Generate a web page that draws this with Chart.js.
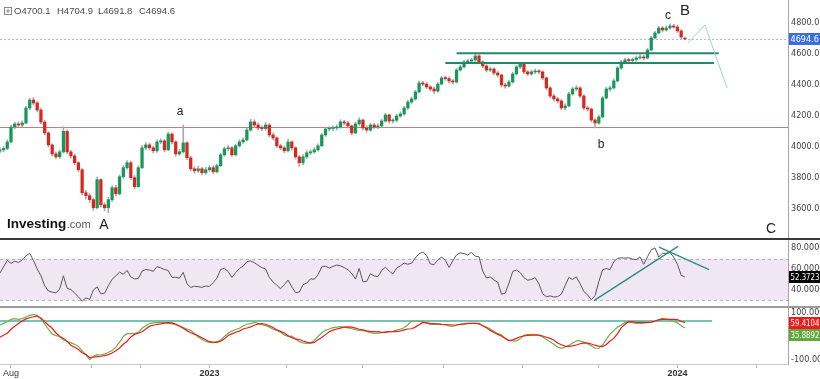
<!DOCTYPE html>
<html><head><meta charset="utf-8">
<script src="https://cdn.jsdelivr.net/npm/chart.js@4.4.0/dist/chart.umd.min.js"></script>
<style>
html,body{margin:0;padding:0;background:#fff;}
#wrap{position:relative;width:820px;height:379px;overflow:hidden;background:#fff;}
canvas{position:absolute;left:0;}
.sep{position:absolute;left:0;width:820px;}
</style></head><body>
<div id="wrap">
<canvas id="main" width="820" height="239" style="top:0"></canvas>
<canvas id="rsi" width="820" height="66" style="top:240px"></canvas>
<canvas id="osc" width="820" height="71" style="top:308px"></canvas>
<div class="sep" style="top:238px;height:2px;background:#3a3a3a"></div>
<div class="sep" style="top:306px;height:2px;background:#9c9c9c"></div>
</div>
<script>
// ---- data (2-trading-day candles, day index 0 = 1 Aug 2022) ----
const START_DAY = -6, STEP = 2;
const open = [
3972,3981,3990,4032,4128,4148,4141,4154,4251,4302,
4283,4238,4160,4090,4013,3955,3936,3968,4100,3968,
3942,3898,3853,3705,3686,3660,3608,3789,3627,3608,
3660,3737,3698,3808,3866,3898,3802,3744,3866,3994,
4013,3994,3975,4032,4039,3981,4083,4032,3955,3968,
4026,3930,3859,3846,3859,3834,3853,3866,3840,3879,
3949,3988,3994,3949,4007,4032,4045,4109,4161,4141,
4122,4118,4141,4077,4058,4007,3994,3975,4032,3994,
3936,3898,3936,3962,3968,3981,4007,4077,4115,4118,
4122,4128,4161,4154,4135,4090,4148,4173,4122,4109,
4141,4128,4135,4167,4206,4167,4172,4199,4212,4251,
4289,4309,4354,4412,4405,4386,4373,4360,4405,4444,
4440,4425,4418,4495,4515,4547,4553,4560,4586,4547,
4521,4495,4502,4476,4463,4399,4392,4418,4470,4515,
4534,4483,4470,4483,4489,4483,4444,4380,4328,4309,
4296,4251,4264,4341,4373,4380,4328,4251,4244,4173,
4154,4193,4315,4373,4380,4425,4508,4547,4560,4556,
4563,4573,4579,4573,4624,4702,4734,4766,4753,4766,
4779,4772,4747,4700.1];
const high = [
3995,4002,4045,4140,4160,4162,4168,4262,4312,4318,
4292,4250,4172,4098,4020,3968,3980,4130,4110,3978,
3955,3905,3860,3720,3700,3672,3805,3795,3640,3675,
3750,3752,3820,3880,3912,3908,3815,3878,4010,4028,
4025,4005,4045,4052,4048,4095,4090,4040,3985,4141,
4035,3940,3872,3875,3868,3868,3880,3878,3890,3960,
4000,4010,4002,4018,4045,4058,4120,4178,4175,4155,
4135,4158,4150,4090,4065,4018,4005,4048,4040,4002,
3945,3950,3975,3982,3995,4020,4088,4128,4130,4135,
4142,4175,4172,4165,4142,4160,4188,4180,4135,4152,
4152,4148,4178,4215,4212,4182,4210,4225,4262,4300,
4322,4365,4425,4422,4415,4395,4385,4415,4455,4456,
4452,4435,4505,4528,4558,4565,4570,4605,4595,4555,
4530,4515,4510,4488,4470,4410,4430,4482,4525,4542,
4540,4492,4495,4502,4498,4490,4450,4388,4340,4320,
4305,4278,4352,4385,4395,4388,4335,4262,4250,4182,
4205,4325,4385,4392,4438,4518,4558,4572,4570,4574,
4585,4595,4590,4635,4712,4745,4778,4775,4780,4793,
4790,4786,4755,4704.9];
const low = [
3960,3968,3982,4025,4118,4128,4130,4148,4240,4270,
4225,4148,4078,4000,3940,3922,3925,3960,3955,3928,
3885,3840,3690,3665,3640,3590,3600,3612,3590,3576,
3648,3685,3690,3798,3855,3790,3730,3738,3860,3982,
3982,3960,3965,4020,3968,3975,4020,3940,3945,3960,
3918,3845,3830,3835,3820,3822,3842,3828,3832,3872,
3940,3975,3938,3942,3998,4022,4038,4100,4130,4110,
4105,4108,4065,4045,3995,3982,3962,3968,3980,3922,
3875,3885,3925,3950,3958,3972,4000,4068,4102,4105,
4110,4120,4142,4122,4078,4085,4140,4110,4095,4100,
4118,4118,4128,4160,4155,4155,4160,4190,4205,4242,
4280,4300,4348,4395,4375,4360,4345,4352,4398,4428,
4412,4405,4410,4488,4508,4538,4545,4550,4535,4510,
4482,4485,4465,4450,4385,4378,4385,4410,4462,4505,
4470,4458,4460,4472,4470,4432,4368,4315,4295,4282,
4238,4240,4258,4332,4362,4315,4240,4230,4160,4122,
4145,4188,4308,4360,4372,4418,4500,4540,4546,4548,
4552,4565,4560,4566,4618,4695,4728,4740,4745,4758,
4765,4738,4698,4691.8];
const close = [
3981,3990,4032,4128,4148,4141,4154,4251,4302,4283,
4238,4160,4090,4013,3955,3936,3968,4100,3968,3942,
3898,3853,3705,3686,3660,3608,3789,3627,3608,3660,
3737,3698,3808,3866,3898,3802,3744,3866,3994,4013,
3994,3975,4032,4039,3981,4083,4032,3955,3968,4026,
3930,3859,3846,3859,3834,3853,3866,3840,3879,3949,
3988,3994,3949,4007,4032,4045,4109,4161,4141,4122,
4118,4141,4077,4058,4007,3994,3975,4032,3994,3936,
3898,3936,3962,3968,3981,4007,4077,4115,4118,4122,
4128,4161,4154,4135,4090,4148,4173,4122,4109,4141,
4128,4135,4167,4206,4167,4172,4199,4212,4251,4289,
4309,4354,4412,4405,4386,4373,4360,4405,4444,4440,
4425,4418,4495,4515,4547,4553,4560,4586,4547,4521,
4495,4502,4476,4463,4399,4392,4418,4470,4515,4534,
4483,4470,4483,4489,4483,4444,4380,4328,4309,4296,
4251,4264,4341,4373,4380,4328,4251,4244,4173,4154,
4193,4315,4373,4380,4425,4508,4547,4560,4556,4563,
4573,4579,4573,4624,4702,4734,4766,4753,4766,4779,
4772,4747,4708,4694.6];
const rsi = [
55.9,62,68.2,65.4,67.4,66.2,68.6,72.5,75,68,
60,53.5,44,39,38,37.2,41,53.5,41.6,40.5,
37,33.5,29.5,32.5,31,40,43,36.3,37,44,
50.2,53.5,57,55,58.6,52.5,50.5,51,58,59.5,
59,57.8,62.2,61,59.5,58.5,52,52.2,51.3,56.8,
46,42.5,43.5,43.2,42.5,43.8,43.4,47,51.3,59.5,
60.7,57.5,52,56.5,60.5,62.8,67,67.7,66,63.5,
61.3,60,52,47.5,44.6,41.2,45,49.5,43,37.5,
38,45,46.6,50.6,50.2,54.5,62,62.6,60.9,62.4,
63.8,63,61.4,59.3,55.9,50.4,60.5,47.9,48.2,55.4,
53.4,52.7,58.5,61.7,58,55.2,60.8,63,65.6,64.5,
65.5,70.5,74.6,76,73,64.8,64.2,68.6,71.3,68.3,
61.5,67.7,73.4,75.4,74.7,73.2,76,72.2,71.6,58,
51.3,52.5,49.5,47.5,36,37,46.6,57.6,59,56.6,
51.8,49.3,50,51.8,45.8,36.5,33.6,34.4,33.3,33.7,
36,44,52,50,52.5,46,38.5,35.4,30.8,34.7,
48,59.2,60.5,59.5,67,70.2,70.6,70.4,70.7,69.4,
68.8,71.5,64.5,71.5,78.3,80.1,71.5,75,75,75.6,
71.3,64.5,54,52.3723];
const oscFast = [
49,56,63,73,76,73,76,83,90,94,
90,74,54,31,10,4,0,-15,-21,-27,
-33,-43,-60,-78,-98,-84,-77,-79,-74,-68,
-60,-45,-24,0,13,12,13,18,35,46,
56,58,60,60,59,57,54,50,44,38,
32,26,12,-2,-12,-21,-25,-26,-22,-15,
0,14,23,30,35,45,52,55,60,56,
50,46,40,31,26,18,7,1,2,-12,
-22,-27,-29,-27,-17,0,16,26,32,38,
40,42,40,37,33,29,26,25,22,16,
13,13,16,20,21,22,27,32,37,50,
66,65,64,62,57,52,52,52,52,49,
45,43,48,52,53,55,56,56,52,46,
40,32,22,12,7,-8,-18,-19,-19,-10,
6,8,9,8,6,-2,-13,-22,-33,-45,
-50,-45,-37,-28,-19,-19,-24,-31,-39,-50,
-50,-36,-12,10,25,40,49,60,62,59,
56,56,57,59,60,66,72,77,74,71,
64,58,46,35.8892];
const oscSlow = [
-3,5,14,31,44,55,66,75,80,84,
87,79,63,48,35,15,1,-8,-20,-37,
-46,-55,-69,-77,-89,-88,-86,-84,-81,-77,
-70,-61,-49,-33,-20,-2,9,14,20,32,
44,48,52,54,57,59,58,53,45,35,
25,16,10,3,-5,-14,-22,-24,-25,-20,
-10,4,11,18,23,32,36,41,48,53,
55,52,46,38,28,22,15,3,-5,-10,
-13,-19,-24,-28,-25,-14,-4,8,20,27,
32,36,40,41,40,36,31,28,24,21,
21,21,18,18,21,21,21,24,28,32,
33,40,50,60,58,56,55,54,52,51,
50,49,50,52,54,56,56,56,56,46,
37,26,17,9,2,-8,-17,-14,-8,-1,
2,5,6,6,6,2,-3,-8,-16,-28,
-35,-41,-42,-40,-36,-31,-27,-28,-32,-37,
-41,-43,-34,-19,-8,12,38,52,63,62,
60,60,60,60,61,65,71,73,73,73,
73,72,64,59.4104];

const priceTicks = [3600,3800,4000,4200,4400,4600,4800];
const rsiTicks = [40,60,80];
const oscTicks = [-100,100];
const axisTickDays = [0,43,69,106,147,188,231,273,314,356,398];
const axisTickLabels = ['Aug','','','2023','','','','','','2024',''];
const headerLabels = ['O4700.1','H4704.9','L4691.8','C4694.6'];
const supportLevel = 4126;
const resistance = [{from:238,to:378,p:4603},{from:232,to:375.5,p:4540}];
const projection = [[361.6,4669],[370.7,4785],[382.5,4379]];
const waveLabels = [
  {t:'a',d:90.3,p:4225,s:12},{t:'A',d:49.7,p:3497,s:14},{t:'b',d:315.2,p:4012,s:12},
  {t:'c',d:351,p:4843,s:12},{t:'B',d:360,p:4875,s:15},{t:'C',d:406,p:3471,s:14}];
const rsiBand = [30,70];
const rsiTrend = [[[311.4,29.8],[356.3,81.5]],[[346.2,80.8],[372.9,59.5]]];
const oscLevel = {p:66,to:374.5};

const days = close.map((_, i) => START_DAY + i * STEP);
const X_MIN = -5.876, X_MAX = 415.06;
const FONT = '"Liberation Sans", Arial, sans-serif';
const NARROW = '"Liberation Sans Narrow", "DejaVu Sans Condensed", "Liberation Sans", sans-serif';

function rightAxis(min, max, ticks, fmt){
  return {position:'right', min, max,
    afterBuildTicks: s => { s.ticks = ticks.map(v => ({value:v})); },
    afterFit: s => { s.width = 32; s.paddingTop = 0; s.paddingBottom = 0; },
    grid:{display:false, drawTicks:false},
    border:{display:true, color:'#a6a6a6', width:1},
    ticks:{padding:3, color:'#444', font:{size:9, family:NARROW}, callback: fmt}};
}
function hiddenX(){ return {type:'linear', min:X_MIN, max:X_MAX, offset:false, display:false}; }
const base = {responsive:false, animation:false, devicePixelRatio:1, events:[],
  layout:{padding:0}, plugins:{legend:{display:false}, tooltip:{enabled:false}}};

function seg(ctx, x1, y1, x2, y2, color, w){
  ctx.strokeStyle = color; ctx.lineWidth = w;
  ctx.beginPath(); ctx.moveTo(x1, y1); ctx.lineTo(x2, y2); ctx.stroke();
}
function valueBox(ctx, y, text, bg, fg){
  ctx.fillStyle = bg; ctx.fillRect(789, Math.round(y) - 6, 31, 12);
  ctx.fillStyle = fg; ctx.font = '9px ' + NARROW;
  ctx.textAlign = 'left'; ctx.textBaseline = 'middle';
  ctx.fillText(text, 790.5, Math.round(y) + 0.5, 29);
}

// ---------- main price chart ----------
const mainOverlay = {
  id:'mainOverlay',
  beforeDatasetsDraw(chart){
    const {ctx, chartArea:a, scales:{x, y}} = chart;
    ctx.save();
    ctx.beginPath(); ctx.rect(a.left, a.top, a.width, a.height); ctx.clip();
    const ys = Math.round(y.getPixelForValue(supportLevel)) + 0.5;
    seg(ctx, a.left, ys, a.right, ys, '#c47c76', 1);
    const yc = Math.round(y.getPixelForValue(close[close.length-1])) + 0.5;
    ctx.setLineDash([2,2]); seg(ctx, a.left, yc, a.right, yc, '#a8b6ee', 1); ctx.setLineDash([]);
    ctx.restore();
  },
  afterDatasetsDraw(chart){
    const {ctx, chartArea:a, scales:{x, y}} = chart;
    ctx.save();
    resistance.forEach(r => {
      const yy = y.getPixelForValue(r.p);
      seg(ctx, x.getPixelForValue(r.from), yy, x.getPixelForValue(r.to), yy, '#23886a', 2);
    });
    ctx.strokeStyle = '#9bd6d2'; ctx.lineWidth = 1; ctx.beginPath();
    projection.forEach((p, i) => {
      const px = x.getPixelForValue(p[0]), py = y.getPixelForValue(p[1]);
      if (i === 0) ctx.moveTo(px, py); else ctx.lineTo(px, py);
    });
    ctx.stroke();
    ctx.fillStyle = '#222'; ctx.textAlign = 'center'; ctx.textBaseline = 'middle';
    waveLabels.forEach(l => {
      ctx.font = l.s + 'px ' + FONT;
      ctx.fillText(l.t, x.getPixelForValue(l.d), y.getPixelForValue(l.p));
    });
    ctx.restore();
  },
  afterDraw(chart){
    const {ctx, scales:{y}} = chart;
    ctx.save();
    // header
    ctx.strokeStyle = '#8a8a8a'; ctx.lineWidth = 1;
    ctx.strokeRect(4.5, 7.5, 7, 7);
    seg(ctx, 8, 9, 8, 13, '#8a8a8a', 1); seg(ctx, 6, 11, 10, 11, '#8a8a8a', 1);
    ctx.fillStyle = '#4a4a4a'; ctx.font = '9.5px ' + FONT;
    ctx.textAlign = 'left'; ctx.textBaseline = 'middle';
    [14, 57, 98, 139].forEach((px, i) => ctx.fillText(headerLabels[i], px, 11.5));
    // logo
    ctx.textBaseline = 'alphabetic';
    ctx.font = 'bold 13.5px ' + FONT; ctx.fillStyle = '#111';
    ctx.fillText('Investing', 7, 228);
    const w = ctx.measureText('Investing').width;
    ctx.font = '11px ' + FONT; ctx.fillStyle = '#555';
    ctx.fillText('.com', 7 + w + 0.5, 228);
    // last price box
    valueBox(ctx, y.getPixelForValue(close[close.length-1]), close[close.length-1].toFixed(1), '#3c6fdc', '#fff');
    ctx.restore();
  }
};

new Chart(document.getElementById('main'), {
  type:'bar',
  data:{datasets:[
    {label:'wick', data: days.map((d, i) => ({x:d, y:[low[i], high[i]]})),
     backgroundColor:'#ababab', barThickness:1, grouped:false, order:2},
    {label:'body', data: days.map((d, i) => ({x:d, y:[open[i], close[i]]})),
     backgroundColor: days.map((d, i) => close[i] >= open[i] ? '#15995a' : '#d9261f'),
     barThickness:2.6, minBarLength:1, grouped:false, order:1}
  ]},
  options:Object.assign({}, base, {
    scales:{x: hiddenX(), y: rightAxis(3406.8, 4946.2, priceTicks, v => Number(v).toFixed(1))}
  }),
  plugins:[mainOverlay]
});

// ---------- RSI ----------
const rsiOverlay = {
  id:'rsiOverlay',
  beforeDatasetsDraw(chart){
    const {ctx, chartArea:a, scales:{x, y}} = chart;
    ctx.save();
    const yT = y.getPixelForValue(rsiBand[1]), yB = y.getPixelForValue(rsiBand[0]);
    ctx.fillStyle = '#f1e6f3'; ctx.fillRect(a.left, yT, a.width, yB - yT);
    ctx.setLineDash([3,3]);
    seg(ctx, a.left, Math.round(yT) + 0.5, a.right, Math.round(yT) + 0.5, '#b9b0bb', 1);
    seg(ctx, a.left, Math.round(yB) + 0.5, a.right, Math.round(yB) + 0.5, '#b9b0bb', 1);
    ctx.setLineDash([]);
    ctx.restore();
  },
  afterDatasetsDraw(chart){
    const {ctx, scales:{x, y}} = chart;
    ctx.save();
    rsiTrend.forEach(t => seg(ctx, x.getPixelForValue(t[0][0]), y.getPixelForValue(t[0][1]),
      x.getPixelForValue(t[1][0]), y.getPixelForValue(t[1][1]), '#2a8f83', 1.4));
    ctx.restore();
  },
  afterDraw(chart){
    const {ctx, scales:{y}} = chart;
    ctx.save();
    valueBox(ctx, y.getPixelForValue(rsi[rsi.length-1]), rsi[rsi.length-1].toFixed(4), '#000', '#fff');
    ctx.restore();
  }
};
new Chart(document.getElementById('rsi'), {
  type:'line',
  data:{datasets:[{data: days.map((d, i) => ({x:d, y:rsi[i]})), borderColor:'#5a5a5a',
    borderWidth:1, pointRadius:0, tension:0}]},
  options:Object.assign({}, base, {
    scales:{x: hiddenX(), y: rightAxis(24.76, 87.62, rsiTicks, v => Number(v).toFixed(4))}
  }),
  plugins:[rsiOverlay]
});

// ---------- oscillator ----------
const oscOverlay = {
  id:'oscOverlay',
  beforeDatasetsDraw(chart){
    const {ctx, chartArea:a, scales:{x, y}} = chart;
    ctx.save();
    const yy = y.getPixelForValue(oscLevel.p);
    seg(ctx, a.left, yy, x.getPixelForValue(oscLevel.to), yy, '#4aae9c', 1.5);
    ctx.restore();
  },
  afterDraw(chart){
    const {ctx, scales:{y}} = chart;
    ctx.save();
    const yr = y.getPixelForValue(oscSlow[oscSlow.length-1]);
    const yg = Math.max(y.getPixelForValue(oscFast[oscFast.length-1]), yr + 12);
    valueBox(ctx, yr, oscSlow[oscSlow.length-1].toFixed(4), '#ee1c1c', '#fff');
    valueBox(ctx, yg, oscFast[oscFast.length-1].toFixed(4), '#62a83e', '#fff');
    ctx.restore();
  }
};
new Chart(document.getElementById('osc'), {
  type:'line',
  data:{datasets:[
    {data: days.map((d, i) => ({x:d, y:oscSlow[i]})), borderColor:'#ee1c1c', borderWidth:1.2, pointRadius:0, tension:0},
    {data: days.map((d, i) => ({x:d, y:oscFast[i]})), borderColor:'#6db24a', borderWidth:1.2, pointRadius:0, tension:0}
  ]},
  options:Object.assign({}, base, {
    scales:{
      x:{type:'linear', min:X_MIN, max:X_MAX, offset:false,
        afterBuildTicks: s => { s.ticks = axisTickDays.map(v => ({value:v})); },
        afterFit: s => { s.height = 15; s.paddingLeft = 0; s.paddingRight = 0; },
        grid:{display:true, drawOnChartArea:false, drawTicks:true, tickLength:4, color:'#b5b5b5'},
        border:{display:true, color:'#c8c8c8'},
        ticks:{autoSkip:false, maxRotation:0, padding:0, color:'#333',
          font: c => ({size:9, family:FONT, weight: (axisTickLabels[c.index] || '').length === 4 ? 'bold' : 'normal'}),
          callback:(v, i) => axisTickLabels[i]}},
      y: rightAxis(-117, 121.3, oscTicks, v => v < 0 ? '-100.000' : Number(v).toFixed(4))
    }
  }),
  plugins:[oscOverlay]
});
</script>
</body></html>
